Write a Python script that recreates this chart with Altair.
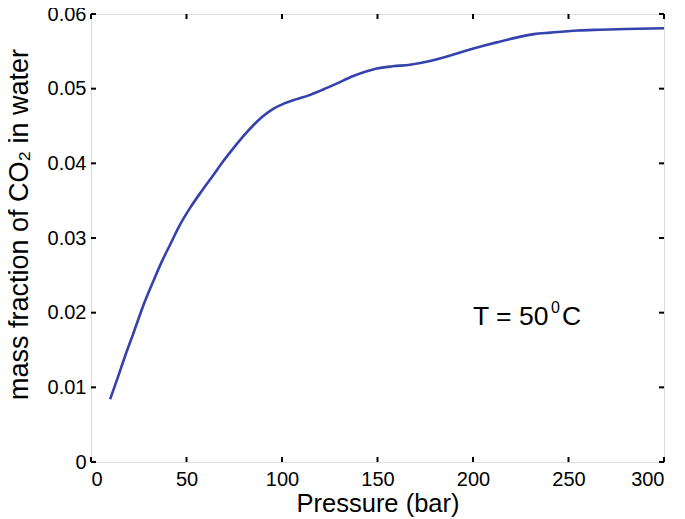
import altair as alt
import pandas as pd

pressure = [10, 14, 18, 22, 27, 32.6, 37, 41.4, 46, 51.8, 58, 64, 69, 74.5, 80, 85, 90,
            95.4, 101, 107.7, 114, 119.9, 128, 137.3, 144, 149.6, 158, 167, 177.5, 185,
            191.5, 198, 205, 212.4, 222, 232, 240.3, 255, 266.5, 280, 300]
fraction = [0.0084, 0.0113, 0.0143, 0.0171, 0.0207, 0.0242, 0.0268, 0.0291, 0.0315, 0.0340,
            0.0363, 0.0384, 0.0402, 0.0420, 0.0437, 0.0451, 0.0463, 0.0473, 0.0480, 0.0486,
            0.0491, 0.0497, 0.0506, 0.0517, 0.0523, 0.0527, 0.0530, 0.0532, 0.0537, 0.0542,
            0.0547, 0.0552, 0.0557, 0.0562, 0.0568, 0.0573, 0.0575, 0.0578, 0.0579, 0.0580, 0.0581]
x_ticks = [0, 50, 100, 150, 200, 250, 300]
y_ticks = [0, 0.01, 0.02, 0.03, 0.04, 0.05, 0.06]
annot_x = [200]
annot_y = [0.01835]

W, H = 573, 448
FONT = "Liberation Sans"

df = pd.DataFrame({"P": pressure, "w": fraction})
dx = pd.DataFrame({"t": x_ticks})
dy = pd.DataFrame({"t": y_ticks})
da = pd.DataFrame({"x": annot_x, "y": annot_y})

xs = alt.Scale(domain=[0, 300], nice=False)
ys = alt.Scale(domain=[0, 0.06], nice=False)

line = alt.Chart(df).mark_line(color="#3342ad", strokeWidth=2.6, interpolate="monotone").encode(
    x=alt.X("P:Q", scale=xs, title="Pressure (bar)",
            axis=alt.Axis(values=x_ticks, ticks=False, domain=False, grid=False,
                          labelFontSize=20, labelPadding=7, titleFontSize=25.5,
                          titlePadding=2, labelColor="black", titleColor="black",
                          labelFont=FONT, titleFont=FONT, titleFontWeight="normal")),
    y=alt.Y("w:Q", scale=ys, title="mass fraction of CO₂ in water",
            axis=alt.Axis(values=y_ticks, ticks=False, domain=False, grid=False,
                          labelExpr="datum.value == 0 ? '0' : format(datum.value, '.2f')",
                          labelFontSize=20, labelPadding=5, titleFontSize=27,
                          titlePadding=14, titleY=210, labelColor="black", titleColor="black",
                          labelFont=FONT, titleFont=FONT, titleFontWeight="normal")),
)

tick_style = dict(color="black", strokeWidth=2)
xb = alt.Chart(dx).mark_rule(**tick_style).encode(
    x=alt.X("t:Q", scale=xs), y=alt.value(H), y2=alt.value(H - 5))
xt = alt.Chart(dx).mark_rule(**tick_style).encode(
    x=alt.X("t:Q", scale=xs), y=alt.value(0), y2=alt.value(5))
yl = alt.Chart(dy).mark_rule(**tick_style).encode(
    y=alt.Y("t:Q", scale=ys), x=alt.value(0), x2=alt.value(5))
yr = alt.Chart(dy).mark_rule(**tick_style).encode(
    y=alt.Y("t:Q", scale=ys), x=alt.value(W), x2=alt.value(W - 5))

t1 = alt.Chart(da).mark_text(text="T = 50", font=FONT, fontSize=26.5, align="left",
                             baseline="alphabetic", color="black").encode(
    x=alt.X("x:Q", scale=xs), y=alt.Y("y:Q", scale=ys))
t2 = alt.Chart(da).mark_text(text="0", font=FONT, fontSize=16, align="left",
                             baseline="alphabetic", color="black", dx=78, dy=-12).encode(
    x=alt.X("x:Q", scale=xs), y=alt.Y("y:Q", scale=ys))
t3 = alt.Chart(da).mark_text(text="C", font=FONT, fontSize=26.5, align="left",
                             baseline="alphabetic", color="black", dx=89).encode(
    x=alt.X("x:Q", scale=xs), y=alt.Y("y:Q", scale=ys))

chart = alt.layer(line, xb, xt, yl, yr, t1, t2, t3).properties(
    width=W, height=H,
    autosize=alt.AutoSizeParams(type="none"),
    padding={"left": 83, "top": 6, "right": 10, "bottom": 57},
).configure_view(stroke="black", strokeWidth=2.5).configure(background="white")

chart.save("out.html", embed_options={"renderer": "svg", "actions": False})
